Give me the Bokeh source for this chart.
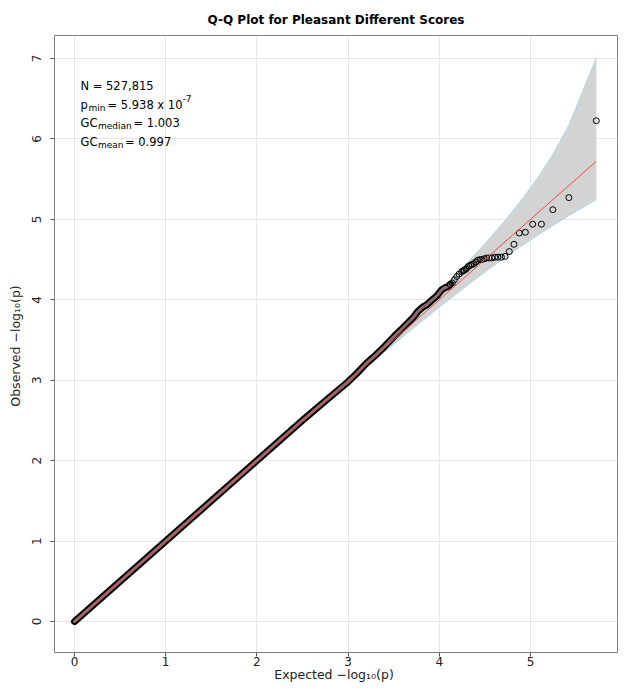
from bokeh.plotting import figure
from bokeh.models import Range1d, Label, FixedTicker
from bokeh.embed import file_html
from bokeh.resources import INLINE

title_text = "Q-Q Plot for Pleasant Different Scores"
x_label = "Expected  \u2212log\u2081\u2080(p)"
y_label = "Observed  \u2212log\u2081\u2080(p)"
x_ticks = [0, 1, 2, 3, 4, 5]
y_ticks = [0, 1, 2, 3, 4, 5, 6, 7]

# top-ranked points, drawn individually (rank 1 = smallest p-value)
tail_expected = [5.722, 5.421, 5.245, 5.120, 5.024, 4.944, 4.877, 4.819, 4.768, 4.722,
                 4.681, 4.643, 4.608, 4.576, 4.546, 4.518, 4.492, 4.467, 4.444, 4.421,
                 4.400, 4.380, 4.361, 4.342, 4.325, 4.308, 4.291, 4.275, 4.260, 4.245,
                 4.217, 4.191, 4.166, 4.143, 4.120]
tail_observed = [6.226, 5.27, 5.12, 4.94, 4.94, 4.84, 4.83, 4.69, 4.60, 4.54,
                 4.53, 4.53, 4.53, 4.52, 4.52, 4.52, 4.51, 4.50, 4.50, 4.49,
                 4.47, 4.45, 4.44, 4.43, 4.42, 4.40, 4.38, 4.37, 4.36, 4.35,
                 4.32, 4.29, 4.25, 4.21, 4.19]

# dense body of the Q-Q cloud (overlapping points)
body_expected = [0.0, 0.5, 1.0, 1.5, 2.0, 2.5, 2.8, 3.0, 3.1, 3.2, 3.3, 3.4, 3.5, 3.6,
                 3.722, 3.768, 3.819, 3.865, 3.903, 3.944, 3.982, 4.023, 4.060, 4.089, 4.120]
body_observed = [0.0, 0.5, 1.0, 1.5, 2.0, 2.5, 2.79, 2.98, 3.09, 3.21, 3.31, 3.42, 3.54, 3.65,
                 3.79, 3.86, 3.91, 3.94, 3.98, 4.02, 4.06, 4.12, 4.15, 4.16, 4.19]

# 90% confidence band
band_expected = [0.0, 1.7225, 2.2454, 2.7225, 3.2454, 3.4215, 3.7225, 3.8774, 4.0235, 4.2454,
                 4.4214, 4.5464, 4.7225, 4.8774, 5.0235, 5.1204, 5.2453, 5.4214, 5.7225]
band_upper = [0.0, 1.7297, 2.2586, 2.7457, 3.2887, 3.4737, 3.7975, 3.9679, 4.1319, 4.3882,
              4.6001, 4.7565, 4.9881, 5.2059, 5.4280, 5.5869, 5.8099, 6.1718, 7.0125]
band_lower = [0.0, 1.7154, 2.2325, 2.7005, 3.2059, 3.3726, 3.6543, 3.7966, 3.9289, 4.1255,
              4.2772, 4.3823, 4.5265, 4.6491, 4.7609, 4.8330, 4.9235, 5.0464, 5.2460]

null_x = [0.0, 5.722]
null_y = [0.0, 5.722]

FONT = "DejaVu Sans"

p = figure(width=624, height=692, output_backend="svg", toolbar_location=None,
           x_range=Range1d(-0.219, 5.954), y_range=Range1d(-0.385, 7.286),
           min_border_left=54, min_border_right=7, min_border_top=35, min_border_bottom=40)

p.title.text = title_text
p.title.align = "center"
p.title.text_font = FONT
p.title.text_font_size = "12px"
p.title.text_font_style = "bold"
p.title.text_color = "black"
p.title.standoff = 18

p.outline_line_color = "#808080"
p.outline_line_width = 1
p.background_fill_color = "white"
p.border_fill_color = "white"

for ax, ticks in ((p.xaxis, x_ticks), (p.yaxis, y_ticks)):
    ax.ticker = FixedTicker(ticks=ticks)
    ax.minor_tick_line_color = None
    ax.axis_line_color = None
    ax.major_tick_in = 0
    ax.major_tick_out = 4
    ax.major_tick_line_color = "#555555"
    ax.major_label_text_font = FONT
    ax.major_label_text_font_size = "12px"
    ax.major_label_text_color = "#222222"
    ax.axis_label_text_font = FONT
    ax.axis_label_text_font_size = "12.5px"
    ax.axis_label_text_font_style = "normal"
    ax.axis_label_text_color = "#222222"

p.xaxis.axis_label = x_label
p.yaxis.axis_label = y_label
p.xaxis.major_label_standoff = 0
p.xaxis.axis_label_standoff = -2
p.yaxis.major_label_orientation = "vertical"
p.yaxis.major_label_standoff = 9
p.yaxis.axis_label_standoff = 7

p.xgrid.ticker = FixedTicker(ticks=x_ticks)
p.ygrid.ticker = FixedTicker(ticks=y_ticks)
p.grid.grid_line_color = "#e6e6e6"
p.grid.grid_line_width = 1

# confidence band
p.varea(x=band_expected, y1=band_lower, y2=band_upper, fill_color="#d3d3d3")
p.line(band_expected, band_upper, line_color="#add8e6", line_width=1)
p.line(band_expected, band_lower, line_color="#add8e6", line_width=1)

# dense body of points
p.line(body_expected, body_observed, line_color="black", line_width=7,
       line_cap="round", line_join="round")
p.line(body_expected, body_observed, line_color="#8a6a70", line_width=3,
       line_cap="round", line_join="round")

# individual points
p.scatter(tail_expected, tail_observed, marker="circle", size=6,
          fill_color=None, line_color="black", line_width=1)

# null line
p.line(null_x, null_y, line_color="#e8504f", line_width=1)

# annotation block
ax0, ay0 = 0.066, 6.66
big, small = "11.5px", "9px"
entries = [
    ("N = 527,815", 0, 0, big),
    ("p", 0, -18.7, big),
    ("min", 8, -21.7, small),
    ("= 5.938 x 10", 27, -18.7, big),
    ("-7", 102, -12.7, small),
    ("GC", 0, -37.4, big),
    ("median", 17.5, -40.4, small),
    ("= 1.003", 53, -37.4, big),
    ("GC", 0, -56.1, big),
    ("mean", 17.5, -59.1, small),
    ("= 0.997", 44.5, -56.1, big),
]
for txt, dx, dy, fs in entries:
    p.add_layout(Label(x=ax0, y=ay0, x_offset=dx, y_offset=dy, text=txt,
                       text_font=FONT, text_font_size=fs, text_color="black",
                       text_baseline="alphabetic", text_align="left"))

open("out.html", "w").write(file_html(p, INLINE))
